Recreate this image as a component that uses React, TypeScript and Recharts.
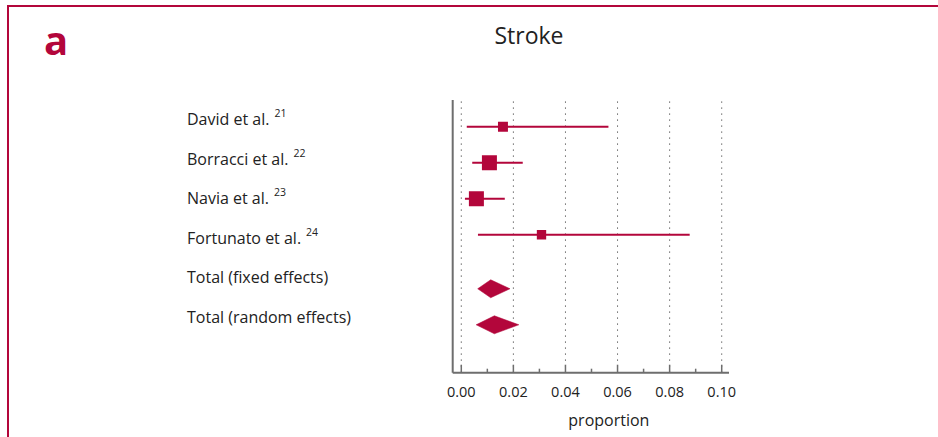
import {
  ComposedChart, Scatter, XAxis, YAxis, ZAxis, ErrorBar, ReferenceLine,
} from "recharts";

// studi singoli
const STUDIES = ["David et al.", "Borracci et al.", "Navia et al.", "Fortunato et al."];
const REFS = ["21", "22", "23", "24"];
const STUDY_ROW = [1, 2, 3, 4];
const EST = [0.016, 0.0108, 0.0058, 0.0308];
const LOW = [0.0021, 0.0042, 0.0014, 0.0064];
const HIGH = [0.0565, 0.0236, 0.0167, 0.0877];
const WEIGHT = [11.4, 40, 40, 8.7];

// stime cumulative
const POOLED = ["Total (fixed effects)", "Total (random effects)"];
const POOLED_ROW = [5.5, 6.5];
const POOLED_EST = [0.0113, 0.0127];
const POOLED_LOW = [0.0063, 0.0057];
const POOLED_HIGH = [0.0187, 0.0221];

const X_TICKS = [0, 0.01, 0.02, 0.03, 0.04, 0.05, 0.06, 0.07, 0.08, 0.09, 0.1];
const GRID = [0, 0.02, 0.04, 0.06, 0.08, 0.1];

const RED = "#b3063b";
const AXIS = "#6e6e6e";
const TEXT = "#222";
const FONT = "'Open Sans', 'Noto Sans', sans-serif";
const DIAMOND_HALF = 0.25; // mezza altezza del rombo, in unità di riga

const labelRows = [
  ...STUDIES.map((s, i) => ({ label: s, ref: REFS[i] })),
  ...POOLED.map((s) => ({ label: s, ref: "" })),
];

const studyData = STUDIES.map((s, i) => ({
  name: s,
  x: EST[i],
  y: STUDY_ROW[i],
  w: WEIGHT[i],
  err: [EST[i] - LOW[i], HIGH[i] - EST[i]],
}));

// i quattro vertici del rombo: sinistra, alto, destra, basso
const diamond = (i: number) => [
  { x: POOLED_LOW[i], y: POOLED_ROW[i] },
  { x: POOLED_EST[i], y: POOLED_ROW[i] - DIAMOND_HALF },
  { x: POOLED_HIGH[i], y: POOLED_ROW[i] },
  { x: POOLED_EST[i], y: POOLED_ROW[i] + DIAMOND_HALF },
];

const diamondPath = (p: any) => {
  const pts: { x: number; y: number }[] = p.points || [];
  if (pts.length < 4) return <g />;
  const d = pts.map((q, k) => `${k ? "L" : "M"}${q.x},${q.y}`).join(" ") + " Z";
  return <path d={d} fill={RED} stroke={RED} strokeWidth={0.5} />;
};

const XTick = (props: any) => {
  const { x, y, payload, index } = props;
  const major = index % 2 === 0;
  return (
    <g>
      <line x1={x} x2={x} y1={y} y2={y - (major ? 8 : 4)} stroke={AXIS} strokeWidth={1.5} />
      {major && (
        <text x={x} y={y + 24} textAnchor="middle" fontSize={14.5} fill={TEXT} fontFamily={FONT}>
          {Number(payload.value).toFixed(2)}
        </text>
      )}
    </g>
  );
};

const LABEL_X = 187;
const LabelTick = (props: any) => {
  const { y, index } = props;
  const row = labelRows[index];
  if (!row) return <g />;
  return (
    <text x={LABEL_X} y={y + 5} fontSize={16} fill={TEXT} fontFamily={FONT}>
      {row.label}
      {row.ref && (
        <tspan dx={5} dy={-8} fontSize={10.5}>{row.ref}</tspan>
      )}
    </text>
  );
};

export default function App() {
  return (
    <div style={{ position: "absolute", left: 0, top: 0, width: 938, height: 437, background: "#fff", overflow: "hidden" }}>
      <div
        style={{
          position: "absolute", left: 7, top: 5, width: 1000, height: 500,
          borderTop: `2.5px solid ${RED}`, borderLeft: `2.5px solid ${RED}`,
        }}
      />
      <svg width={938} height={437} style={{ position: "absolute", left: 0, top: 0 }}>
        <text x={44} y={55} fontSize={40} fontWeight={700} fill={RED} fontFamily={FONT}>a</text>
        <text x={529} y={44} fontSize={23} textAnchor="middle" fill={TEXT} fontFamily={FONT}>Stroke</text>
      </svg>
      <div style={{ position: "absolute", left: 0, top: 0 }}>
        <ComposedChart
          width={938}
          height={437}
          data={labelRows}
          margin={{ top: 100, right: 208, bottom: 4.3, left: 0 }}
        >
          <XAxis
            type="number"
            dataKey="x"
            domain={[-0.0033, 0.1028]}
            allowDataOverflow
            ticks={X_TICKS}
            interval={0}
            height={60}
            tickSize={0}
            tickMargin={0}
            tickLine={false}
            tick={XTick}
            axisLine={{ stroke: AXIS, strokeWidth: 2 }}
            label={{
              value: "proportion",
              content: (p: any) => {
                const vb = p.viewBox || { x: 0, y: 0, width: 0 };
                return (
                  <text x={vb.x + vb.width / 2 + 18} y={vb.y + 53} textAnchor="middle" fontSize={16} fill={TEXT} fontFamily={FONT}>
                    proportion
                  </text>
                );
              },
            }}
          />
          <YAxis
            type="number"
            dataKey="y"
            domain={[0.26, 7.83]}
            allowDataOverflow
            reversed
            ticks={[...STUDY_ROW, ...POOLED_ROW]}
            interval={0}
            width={452.7}
            tick={false}
            tickSize={7}
            tickLine={{ stroke: AXIS, strokeWidth: 2 }}
            axisLine={{ stroke: AXIS, strokeWidth: 2 }}
          />
          <YAxis
            yAxisId="lab"
            type="category"
            dataKey="label"
            orientation="right"
            reversed
            width={1}
            padding={{ top: 20, bottom: 54.7 }}
            interval={0}
            axisLine={false}
            tickLine={false}
            tick={LabelTick}
          />
          <ZAxis type="number" dataKey="w" range={[49, 225]} />
          {GRID.map((g) => (
            <ReferenceLine key={g} x={g} stroke="#444" strokeDasharray="1.2 4.8" strokeWidth={1} />
          ))}
          <Scatter data={studyData} shape="square" fill={RED} isAnimationActive={false}>
            <ErrorBar dataKey="err" direction="x" width={0} stroke={RED} strokeWidth={2} />
          </Scatter>
          {POOLED.map((p, i) => (
            <Scatter
              key={p}
              data={diamond(i)}
              shape={() => <g />}
              line={diamondPath}
              fill={RED}
              isAnimationActive={false}
            />
          ))}
        </ComposedChart>
      </div>
    </div>
  );
}
